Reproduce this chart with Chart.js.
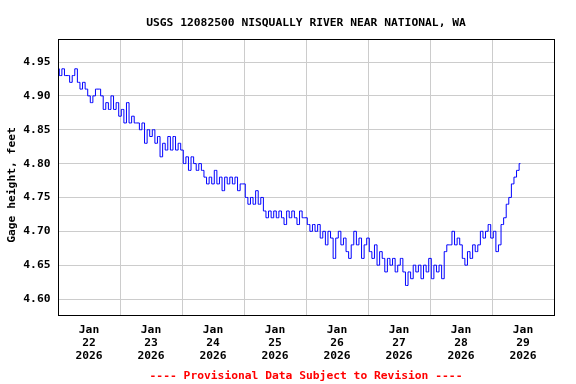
<!DOCTYPE html>
<html><head><meta charset="utf-8">
<script src="https://cdn.jsdelivr.net/npm/chart.js@4/dist/chart.umd.min.js"></script>
<style>html,body{margin:0;padding:0;background:#fff}canvas{display:block}</style>
</head><body>
<canvas id="c" width="576" height="384"></canvas>
<script>
const chartTitle = 'USGS 12082500 NISQUALLY RIVER NEAR NATIONAL, WA';
const yAxisTitle = 'Gage height, feet';
const footerText = '---- Provisional Data Subject to Revision ----';

// x axis: hours relative to Jan 22 2026 00:00
const dayHours   = [0, 24, 48, 72, 96, 120, 144, 168];
const dayMonths  = ['Jan', 'Jan', 'Jan', 'Jan', 'Jan', 'Jan', 'Jan', 'Jan'];
const dayNumbers = ['22', '23', '24', '25', '26', '27', '28', '29'];
const dayYears   = ['2026', '2026', '2026', '2026', '2026', '2026', '2026', '2026'];
const noonHours  = [12, 36, 60, 84, 108, 132, 156];
const yTickValues = [4.60, 4.65, 4.70, 4.75, 4.80, 4.85, 4.90, 4.95];

// hourly gage height (ft), first value at Jan 21 12:00
const firstHour = -12;
const gageHeight = [
  4.94,4.93,4.94,4.93,4.93,4.92,4.93,4.94,4.92,4.91,4.92,4.91,
  4.90,4.89,4.90,4.91,4.91,4.90,4.88,4.89,4.88,4.90,4.88,4.89,
  4.87,4.88,4.86,4.89,4.86,4.87,4.86,4.86,4.85,4.86,4.83,4.85,
  4.84,4.85,4.83,4.84,4.81,4.83,4.82,4.84,4.82,4.84,4.82,4.83,
  4.82,4.80,4.81,4.79,4.81,4.80,4.79,4.80,4.79,4.78,4.77,4.78,
  4.77,4.79,4.77,4.78,4.76,4.78,4.77,4.78,4.77,4.78,4.76,4.77,
  4.77,4.75,4.74,4.75,4.74,4.76,4.74,4.75,4.73,4.72,4.73,4.72,
  4.73,4.72,4.73,4.72,4.71,4.73,4.72,4.73,4.72,4.71,4.73,4.72,
  4.72,4.71,4.70,4.71,4.70,4.71,4.69,4.70,4.68,4.70,4.69,4.66,
  4.69,4.70,4.68,4.69,4.67,4.66,4.68,4.70,4.68,4.69,4.66,4.68,
  4.69,4.67,4.66,4.68,4.65,4.67,4.66,4.64,4.66,4.65,4.66,4.64,
  4.65,4.66,4.64,4.62,4.64,4.63,4.65,4.64,4.65,4.63,4.65,4.64,
  4.66,4.63,4.65,4.64,4.65,4.63,4.67,4.68,4.68,4.70,4.68,4.69,
  4.68,4.66,4.65,4.67,4.66,4.68,4.67,4.68,4.70,4.69,4.70,4.71,
  4.69,4.70,4.67,4.68,4.71,4.72,4.74,4.75,4.77,4.78,4.79,4.80
];

const FONT = 'DejaVu Sans Mono';
const FSIZE = 11.3;
const points = gageHeight.map((v, i) => ({x: firstHour + i, y: v}));
const xTicks = dayHours.concat(noonHours).sort((a, b) => a - b);

const textPlugin = {
  id: 'frameAndText',
  afterDraw(chart) {
    const {ctx, chartArea: a} = chart;
    const cx = (a.left + a.right) / 2;
    ctx.save();
    ctx.strokeStyle = '#000';
    ctx.lineWidth = 1;
    ctx.strokeRect(a.left + 0.5, a.top + 0.5, a.right - a.left, a.bottom - a.top);
    ctx.font = 'bold ' + FSIZE + 'px "' + FONT + '"';
    ctx.textAlign = 'center';
    ctx.textBaseline = 'alphabetic';
    ctx.fillStyle = '#000';
    ctx.fillText(chartTitle, cx, 25.5);
    ctx.fillStyle = '#ff0000';
    ctx.fillText(footerText, cx, 378.5);
    ctx.fillStyle = '#000';
    ctx.translate(14.5, 185);
    ctx.rotate(-Math.PI / 2);
    ctx.fillText(yAxisTitle, 0, 0);
    ctx.restore();
  }
};

new Chart(document.getElementById('c'), {
  type: 'line',
  data: {
    datasets: [{
      data: points,
      borderColor: '#0000ff',
      borderWidth: 1,
      pointRadius: 0,
      stepped: 'middle',
      fill: false
    }]
  },
  options: {
    responsive: false,
    animation: false,
    devicePixelRatio: 1,
    layout: {padding: {left: 0, right: 22, top: 39, bottom: 0}},
    plugins: {
      legend: {display: false},
      tooltip: {enabled: false},
      title: {display: false}
    },
    scales: {
      x: {
        type: 'linear', min: -12, max: 180,
        afterBuildTicks: s => { s.ticks = xTicks.map(v => ({value: v})); },
        afterFit: s => { s.height = 69; },
        grid: {
          color: c => (c.tick && dayHours.indexOf(c.tick.value) < 0) ? '#cccccc' : 'rgba(0,0,0,0)',
          drawTicks: false, lineWidth: 1
        },
        border: {display: false},
        ticks: {
          autoSkip: false, maxRotation: 0, minRotation: 0, padding: 8.6, color: '#000',
          font: {family: FONT, size: FSIZE, weight: 'bold', lineHeight: 12.8 / FSIZE},
          callback: v => {
            const i = dayHours.indexOf(v);
            return i >= 0 ? [dayMonths[i], dayNumbers[i], dayYears[i]] : '';
          }
        }
      },
      y: {
        min: 4.5764, max: 4.984,
        afterBuildTicks: s => { s.ticks = yTickValues.map(v => ({value: v})); },
        afterFit: s => { s.width = 58; },
        grid: {color: '#cccccc', drawTicks: false, lineWidth: 1},
        border: {display: false},
        ticks: {
          padding: 7.5, color: '#000',
          font: {family: FONT, size: FSIZE, weight: 'bold'},
          callback: v => v.toFixed(2)
        }
      }
    }
  },
  plugins: [textPlugin]
});
</script>
</body></html>
